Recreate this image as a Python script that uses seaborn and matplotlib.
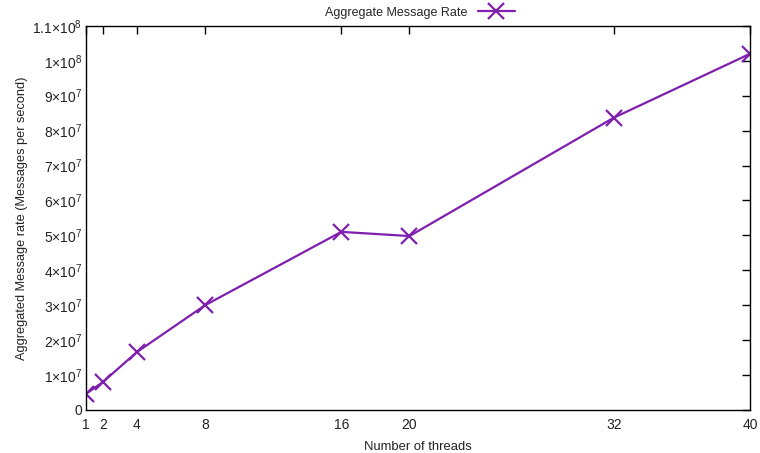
import pandas as pd
import seaborn as sns
import matplotlib.pyplot as plt
from matplotlib.ticker import FixedLocator, FuncFormatter

# values
threads = [1, 2, 4, 8, 16, 20, 32, 40]
msg_rate = [4.6e6, 8.0e6, 1.66e7, 3.0e7, 5.1e7, 4.98e7, 8.37e7, 1.02e8]
y_ticks = [0, 1e7, 2e7, 3e7, 4e7, 5e7, 6e7, 7e7, 8e7, 9e7, 1e8, 1.1e8]

df = pd.DataFrame({"threads": threads, "rate": msg_rate})

sns.set_theme(style="white")
plt.rcParams["font.family"] = ["Liberation Sans", "DejaVu Sans"]
plt.rcParams["mathtext.fontset"] = "custom"
plt.rcParams["mathtext.rm"] = "Liberation Sans"
plt.rcParams["mathtext.it"] = "Liberation Sans"

colour = "#7e1fae"

fig = plt.figure(figsize=(7.6, 4.53), dpi=100)
ax = fig.add_axes([0.113, 0.095, 0.874, 0.848])

sns.lineplot(data=df, x="threads", y="rate", ax=ax, color=colour,
             marker="x", markersize=11, markeredgewidth=1.6,
             markeredgecolor=colour, linewidth=1.6,
             label="Aggregate Message Rate")

ax.set_xlim(1, 40)
ax.set_ylim(0, 1.1e8)
ax.xaxis.set_major_locator(FixedLocator(threads))
ax.yaxis.set_major_locator(FixedLocator(y_ticks))


def sci_fmt(v, pos):
    if v == 0:
        return "0"
    exp = 7 if v < 1e8 else 8
    mant = v / 10 ** exp
    mant_s = f"{mant:g}"
    return rf"${mant_s}{{\times}}10^{{{exp}}}$"


ax.yaxis.set_major_formatter(FuncFormatter(sci_fmt))

for side in ax.spines.values():
    side.set_color("black")
    side.set_linewidth(1.0)

ax.tick_params(direction="in", length=6, width=1, colors="black",
               labelcolor="#222222", labelsize=10, top=True, right=True,
               pad=2.5)
ax.tick_params(axis="x", pad=6)

ax.set_xlabel("Number of threads", fontsize=9.4, color="#222222", labelpad=6)
ax.set_ylabel("Aggregated Message rate (Messages per second)", fontsize=9.2,
              color="#222222", labelpad=3)

ax.get_legend().remove()
handles, labels = ax.get_legend_handles_labels()
fig.legend(handles, labels, loc="upper center", bbox_to_anchor=(0.553, 1.01),
           frameon=False, markerfirst=False, fontsize=9, handlelength=3.0)

fig.savefig("out.png", dpi=100)
